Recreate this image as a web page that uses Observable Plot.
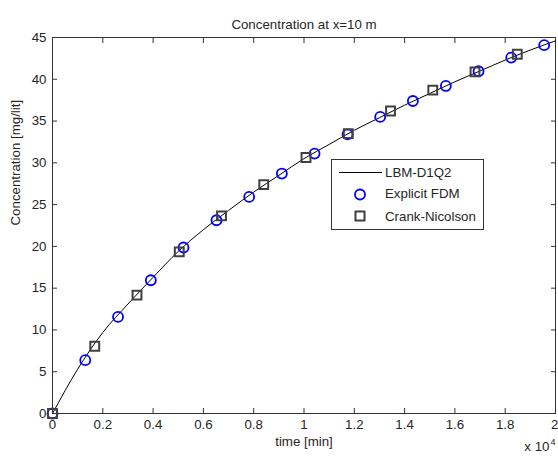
<!DOCTYPE html>
<html><head><meta charset="utf-8">
<script src="https://cdn.jsdelivr.net/npm/d3@7"></script>
<script src="https://cdn.jsdelivr.net/npm/@observablehq/plot@0.6"></script>
<style>
html,body{margin:0;padding:0;background:#fff;}
#chart{position:relative;width:558px;height:456px;overflow:hidden;}
</style>
</head><body><div id="chart"></div>
<script>
// ---- data (time in minutes, concentration in mg/lit) ----
const lbmTime = [0,1000,2000,3000,4000,5000,6000,7000,8000,9000,10000,11000,12000,13000,14000,15000,16000,17000,18000,19000,20000];
const lbmConc = [0,5.3,9.7,13.1,16.3,19.4,22.0,24.3,26.5,28.5,30.5,32.2,33.9,35.4,36.9,38.3,39.7,41.0,42.3,43.5,44.6];

const fdmTime = [0,1303,2606,3910,5210,6520,7820,9120,10420,11730,13030,14330,15640,16940,18240,19550];
const fdmConc = [0,6.38,11.56,15.95,19.87,23.13,25.92,28.72,31.11,33.4,35.5,37.4,39.2,40.96,42.6,44.08];

const cnTime = [0,1680,3360,5040,6720,8400,10080,11760,13440,15120,16800,18480];
const cnConc = [0,8.05,14.16,19.34,23.65,27.4,30.64,33.5,36.2,38.7,40.88,43.0];

const xTicks = [0,2000,4000,6000,8000,10000,12000,14000,16000,18000,20000];
const yTicks = [0,5,10,15,20,25,30,35,40,45];

const seriesNames = ["LBM-D1Q2","Explicit FDM","Crank-Nicolson"];
const titleText = "Concentration at x=10 m";
const xLabel = "time [min]";
const yLabel = "Concentration [mg/lit]";
const xExponentBase = "x 10";
const xExponent = "4";

// ---- build ----
const lbm = lbmTime.map((t,i)=>({t, c:lbmConc[i]}));
const fdm = fdmTime.map((t,i)=>({t, c:fdmConc[i]}));
const cn = cnTime.map((t,i)=>({t, c:cnConc[i]}));

const FONT = "'Liberation Sans', Arial, Helvetica, sans-serif";
const TXT = "#262626";
const AX = "#333";
const xMax = xTicks[xTicks.length - 1];
const fmtX = d => String(+(d/1e4).toFixed(1));

const plot = Plot.plot({
  width: 558,
  height: 456,
  marginTop: 37,
  marginLeft: 52,
  marginRight: 3,
  marginBottom: 43,
  style: {fontFamily: FONT, fontSize: "13.3px", color: TXT, background: "#fff", overflow: "visible"},
  x: {domain: [0, xMax]},
  y: {domain: [0, 45]},
  marks: [
    Plot.axisX({ticks: xTicks, anchor: "bottom", tickSize: -5, tickPadding: 11, label: null, stroke: AX,
      tickFormat: d => d === xMax ? "" : fmtX(d)}),
    Plot.axisX({ticks: [xMax], anchor: "bottom", tickSize: 0, tickPadding: 6, label: null, textAnchor: "end", dx: 3,
      tickFormat: fmtX}),
    Plot.axisX({ticks: xTicks, anchor: "top", tickSize: -5, label: null, stroke: AX, tickFormat: () => ""}),
    Plot.axisY({ticks: yTicks, anchor: "left", tickSize: -5, tickPadding: 11, label: null, stroke: AX}),
    Plot.axisY({ticks: yTicks, anchor: "right", tickSize: -5, label: null, stroke: AX, tickFormat: () => ""}),
    Plot.frame({stroke: AX}),
    Plot.line(lbm, {x: "t", y: "c", stroke: "#000", strokeWidth: 1, curve: "monotone-x"}),
    Plot.dot(fdm, {x: "t", y: "c", r: 5, stroke: "#0000ff", strokeWidth: 1.8, fill: "none"}),
    Plot.dot(cn, {x: "t", y: "c", r: 5, symbol: "square", stroke: "#404040", strokeWidth: 2, fill: "none"}),
    Plot.text([titleText], {frameAnchor: "top", dy: -18, fill: TXT, fontSize: 13.3}),
    Plot.text([xLabel], {frameAnchor: "bottom", dy: 32, fill: TXT, fontSize: 13.3}),
    Plot.text([yLabel], {frameAnchor: "left", dx: -37, rotate: -90, fill: TXT, fontSize: 13.3}),
    Plot.text([xExponentBase], {frameAnchor: "bottom-right", dx: -6, dy: 37, textAnchor: "end", fill: TXT, fontSize: 13.3}),
    Plot.text([xExponent], {frameAnchor: "bottom-right", dx: -5, dy: 31, textAnchor: "start", fill: TXT, fontSize: 9})
  ]
});
document.getElementById("chart").appendChild(plot);

// ---- legend ----
const svg = d3.select(plot);
const lg = svg.append("g").attr("font-family", FONT).attr("font-size", 13.3).attr("fill", TXT).attr("text-anchor", "start");
lg.append("rect").attr("x", 331.5).attr("y", 159.5).attr("width", 152).attr("height", 70)
  .attr("fill", "#fff").attr("stroke", AX).attr("stroke-width", 1);
lg.append("line").attr("x1", 339).attr("x2", 382).attr("y1", 172.5).attr("y2", 172.5).attr("stroke", "#000");
lg.append("circle").attr("cx", 360).attr("cy", 194.5).attr("r", 5).attr("fill", "none").attr("stroke", "#0000ff").attr("stroke-width", 1.8);
lg.append("rect").attr("x", 355.5).attr("y", 211.5).attr("width", 9).attr("height", 9).attr("fill", "none").attr("stroke", "#404040").attr("stroke-width", 2);
const ys = [177.3, 197.5, 221];
seriesNames.forEach((n,i) => lg.append("text").attr("x", 385).attr("y", ys[i]).attr("text-anchor", "start").text(n));
</script>
</body></html>
